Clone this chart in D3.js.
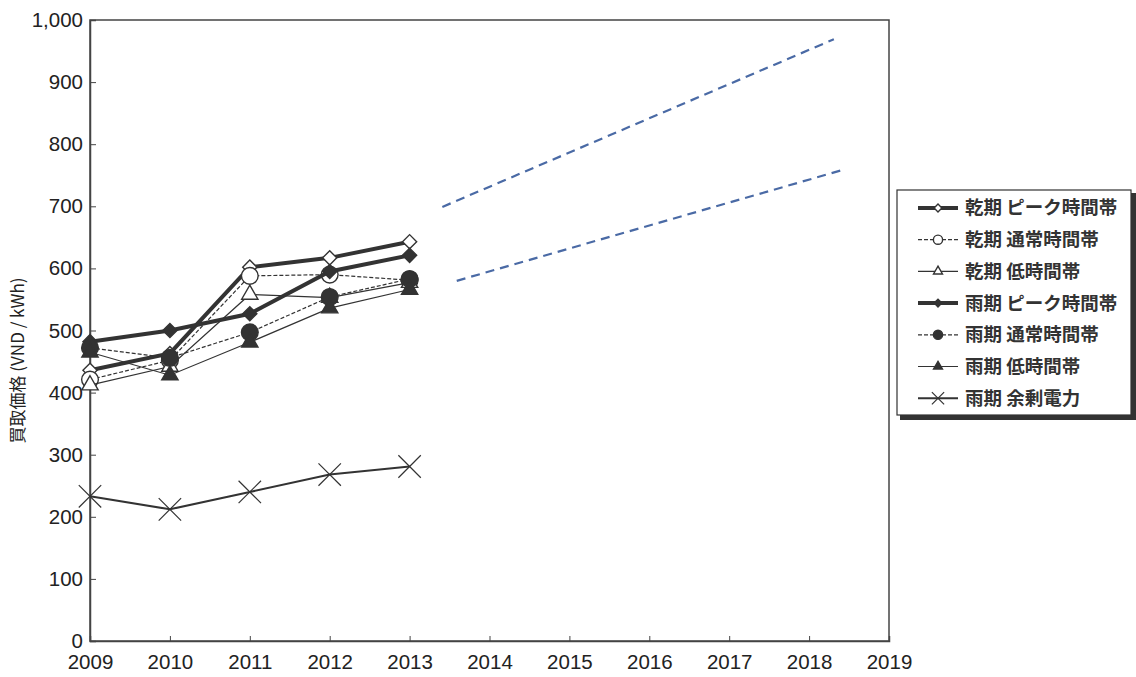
<!DOCTYPE html>
<html>
<head>
<meta charset="utf-8">
<script src="https://cdn.jsdelivr.net/npm/d3@7"></script>
<style>
  body { margin: 0; background: #fff; }
  text { font-family: "Liberation Sans", Arial, sans-serif; }
  .jp { font-family: "Noto Sans CJK JP", "Noto Sans", sans-serif; }
</style>
</head>
<body>
<div id="chart-area"></div>
<script>
var years = [2009, 2010, 2011, 2012, 2013];
var yTicks = [0, 100, 200, 300, 400, 500, 600, 700, 800, 900, 1000];
var xTicks = [2009, 2010, 2011, 2012, 2013, 2014, 2015, 2016, 2017, 2018, 2019];

var dryPeak = [436, 463, 602, 617, 643];
var dryNormal = [421, 452, 588, 590, 581];
var dryLow = [412, 442, 558, 553, 577];
var rainyPeak = [482, 500, 527, 595, 621];
var rainyNormal = [472, 456, 497, 554, 583];
var rainyLow = [465, 428, 481, 536, 566];
var rainySurplus = [233, 212, 240, 268, 281];

// blue dashed projection lines (year, value)
var projUpper = [[2013.41, 699], [2018.31, 969]];
var projLower = [[2013.59, 580], [2018.46, 760]];

var names = ["乾期 ピーク時間帯", "乾期 通常時間帯", "乾期 低時間帯",
             "雨期 ピーク時間帯", "雨期 通常時間帯", "雨期 低時間帯", "雨期 余剰電力"];

var ink = "#333";
var series = [
    {name: names[0], values: dryPeak, width: 4, dash: null, marker: "diamond", fill: "#fff"},
    {name: names[1], values: dryNormal, width: 1.2, dash: "4,2", marker: "circle", fill: "#fff"},
    {name: names[2], values: dryLow, width: 1.2, dash: null, marker: "triangle", fill: "#fff"},
    {name: names[3], values: rainyPeak, width: 4, dash: null, marker: "diamond", fill: ink},
    {name: names[4], values: rainyNormal, width: 1.2, dash: "4,2", marker: "circle", fill: ink},
    {name: names[5], values: rainyLow, width: 1.2, dash: null, marker: "triangle", fill: ink},
    {name: names[6], values: rainySurplus, width: 2, dash: null, marker: "times", fill: "none"}
];

var width = 1136;
var height = 677;
var margin = {top: 20, right: 247, bottom: 36, left: 90};
var w = width - margin.left - margin.right;
var h = height - margin.top - margin.bottom;

var svg = d3.select("#chart-area").append("svg")
    .attr("width", width)
    .attr("height", height);

var g = svg.append("g")
    .attr("transform", "translate(" + margin.left + ", " + margin.top + ")");

var x = d3.scaleLinear().domain([2009, 2019]).range([0, w]);
var y = d3.scaleLinear().domain([0, 1000]).range([h, 0]);

// plot frame
g.append("rect")
    .attr("width", w).attr("height", h)
    .attr("fill", "none").attr("stroke", "#444").attr("stroke-width", 1.5);

var yAxis = g.append("g")
    .call(d3.axisRight(y).tickValues(yTicks).tickSize(6).tickFormat(d3.format(",")));
yAxis.select(".domain").attr("stroke", "#444").attr("stroke-width", 1.5);
yAxis.selectAll("line").attr("stroke", "#444");
yAxis.selectAll("text")
    .attr("x", -7).attr("text-anchor", "end")
    .style("font-size", "20.5px").attr("fill", "#222");

var xAxis = g.append("g")
    .attr("transform", "translate(0, " + h + ")")
    .call(d3.axisTop(x).tickValues(xTicks).tickSize(5).tickFormat(d3.format("d")));
xAxis.select(".domain").attr("stroke", "#444").attr("stroke-width", 1.5);
xAxis.selectAll("line").attr("stroke", "#444");
xAxis.selectAll("text")
    .attr("y", 22).attr("dy", "0.3em")
    .style("font-size", "20.5px").attr("fill", "#222");

g.append("text")
    .attr("class", "jp")
    .attr("transform", "rotate(-90)")
    .attr("x", -(h / 2) - 30)
    .attr("y", -66)
    .attr("text-anchor", "middle")
    .style("font-size", "17px")
    .attr("fill", "#222")
    .text("買取価格 (VND / kWh)");

// projection lines
var proj = d3.line().x((d) => x(d[0])).y((d) => y(d[1]));
[projUpper, projLower].forEach((p) => {
    g.append("path")
        .attr("d", proj(p))
        .attr("fill", "none")
        .attr("stroke", "#4a6aa5")
        .attr("stroke-width", 2.2)
        .attr("stroke-dasharray", "9,6");
});

function markerPath(type, s) {
    if (type === "diamond") return d3.symbol(d3.symbolSquare, 100 * s * s)();
    if (type === "circle") return d3.symbol(d3.symbolCircle, 220 * s * s)();
    if (type === "triangle") return d3.symbol(d3.symbolTriangle, 115 * s * s)();
    return d3.symbol(d3.symbolTimes, 330 * s * s)();
}

function drawMarker(sel, d, s) {
    var p = sel.append("path")
        .attr("d", markerPath(d.marker, s))
        .attr("fill", d.fill)
        .attr("stroke", ink)
        .attr("stroke-width", d.marker === "times" ? 1.2 : 1.4);
    if (d.marker === "diamond") p.attr("transform", "rotate(45)");
    return p;
}

var line = d3.line()
    .x((d, i) => x(years[i]))
    .y((d) => y(d));

series.forEach((s) => {
    var sg = g.append("g");
    sg.append("path")
        .attr("d", line(s.values))
        .attr("fill", "none")
        .attr("stroke", ink)
        .attr("stroke-width", s.width)
        .attr("stroke-dasharray", s.dash);
    s.values.forEach((v, i) => {
        var m = sg.append("g")
            .attr("transform", "translate(" + x(years[i]) + "," + y(v) + ")");
        drawMarker(m, s, 1);
    });
});

// legend
var lg = svg.append("g").attr("transform", "translate(897, 190)");
lg.append("rect")
    .attr("x", 3).attr("y", 3).attr("width", 236).attr("height", 227)
    .attr("fill", "#333");
lg.append("rect")
    .attr("width", 234).attr("height", 225)
    .attr("fill", "#fff").attr("stroke", "#333").attr("stroke-width", 1.2);

series.forEach((s, i) => {
    var row = lg.append("g").attr("transform", "translate(0," + (18 + i * 31.7) + ")");
    row.append("line")
        .attr("x1", 21).attr("x2", 61)
        .attr("stroke", ink)
        .attr("stroke-width", s.width)
        .attr("stroke-dasharray", s.dash);
    var m = row.append("g").attr("transform", "translate(41,0)");
    drawMarker(m, s, 0.55);
    row.append("text")
        .attr("class", "jp")
        .attr("x", 68).attr("dy", "0.35em")
        .style("font-size", "18.5px")
        .attr("font-weight", "bold")
        .attr("fill", "#333")
        .text(s.name);
});
</script>
</body>
</html>
